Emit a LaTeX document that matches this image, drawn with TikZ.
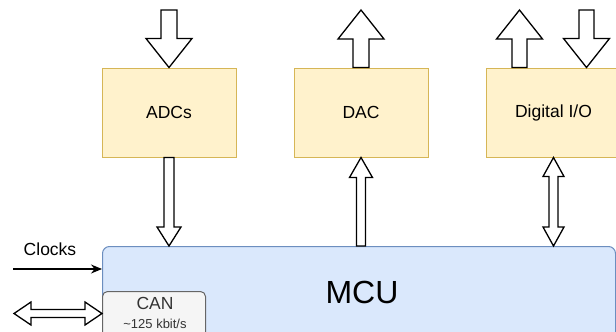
\documentclass[tikz,border=0pt]{standalone}
\usepackage{fontspec}
\setmainfont{Liberation Sans}
\usetikzlibrary{calc,arrows.meta}

\definecolor{ioFill}{HTML}{FFF2CC}
\definecolor{ioLine}{HTML}{D6B656}
\definecolor{mcuFill}{HTML}{DAE8FC}
\definecolor{mcuLine}{HTML}{6C8EBF}
\definecolor{busFill}{HTML}{F5F5F5}
\definecolor{busLine}{HTML}{666666}
\definecolor{busText}{HTML}{333333}

\tikzset{
  periph/.style={draw=ioLine, fill=ioFill, line width=1pt, minimum width=134pt,
    minimum height=89pt, inner sep=0pt, font=\fontsize{17.5}{21}\selectfont},
  mcubox/.style={draw=mcuLine, fill=mcuFill, line width=1pt, rounded corners=7pt,
    minimum width=513pt, minimum height=100pt, inner sep=0pt},
  busbox/.style={draw=busLine, fill=busFill, line width=1pt, rounded corners=5pt,
    minimum width=103pt, minimum height=60pt, inner sep=0pt},
  lbl/.style={inner sep=0pt, font=\fontsize{17.5}{21}\selectfont},
  blockarrow/.style={draw=black, fill=white, line width=1.3pt, line join=miter},
  wire/.style={draw=black, line width=1.3pt, -{Stealth[length=11pt,width=9pt]}}
}

% vertical block arrow: tail, tip, shaft half width, head half width, head length
\newcommand{\vblock}[5]{%
  \draw[blockarrow] let \p1=(#1), \p2=(#2), \n1={sign(\y2-\y1)}, \n2={\y2-\n1*#5} in
    ({\x1-#3},\y1) -- ({\x1-#3},{\n2*1pt}) -- ({\x1-#4},{\n2*1pt}) -- (\x1,\y2)
    -- ({\x1+#4},{\n2*1pt}) -- ({\x1+#3},{\n2*1pt}) -- ({\x1+#3},\y1) -- cycle;}

% vertical double-headed block arrow
\newcommand{\vdblock}[5]{%
  \draw[blockarrow] let \p1=(#1), \p2=(#2), \n1={sign(\y2-\y1)}, \n2={\y2-\n1*#5},
      \n3={\y1+\n1*#5} in
    (\x1,\y1) -- ({\x1-#4},{\n3*1pt}) -- ({\x1-#3},{\n3*1pt}) -- ({\x1-#3},{\n2*1pt})
    -- ({\x1-#4},{\n2*1pt}) -- (\x1,\y2) -- ({\x1+#4},{\n2*1pt}) -- ({\x1+#3},{\n2*1pt})
    -- ({\x1+#3},{\n3*1pt}) -- ({\x1+#4},{\n3*1pt}) -- cycle;}

% horizontal double-headed block arrow
\newcommand{\hdblock}[5]{%
  \draw[blockarrow] let \p1=(#1), \p2=(#2), \n1={sign(\x2-\x1)}, \n2={\x2-\n1*#5},
      \n3={\x1+\n1*#5} in
    (\x1,\y1) -- ({\n3*1pt},{\y1+#4}) -- ({\n3*1pt},{\y1+#3}) -- ({\n2*1pt},{\y1+#3})
    -- ({\n2*1pt},{\y1+#4}) -- (\x2,\y1) -- ({\n2*1pt},{\y1-#4}) -- ({\n2*1pt},{\y1-#3})
    -- ({\n3*1pt},{\y1-#3}) -- ({\n3*1pt},{\y1-#4}) -- cycle;}

\begin{document}
\begin{tikzpicture}[x=1pt, y=-1pt]
\useasboundingbox (0,0) rectangle (616,332);

% peripheral blocks
\node[periph] (adc) at (169,112.5) {ADCs};
\node[periph] (dac) at (361,112.5) {DAC};
\node[periph] (dio) at (553.5,112.5) {Digital I/O};

% microcontroller and its CAN interface
\node[mcubox, anchor=north west] (mcu) at (102,246) {};
\node[lbl, font=\fontsize{32}{36}\selectfont] (mcul) at (362,292) {MCU};
\node[busbox, anchor=north west] (can) at (102,291) {};
\node[lbl, text=busText] (canl) at (155,303) {CAN};
\node[lbl, text=busText, font=\fontsize{13}{15}\selectfont] (canr) at (155,324) {\textasciitilde125 kbit/s};

% external signal ends
\coordinate (adcIn) at (169,10);
\coordinate (dacOut) at (361,10);
\coordinate (dioOut) at (519.5,10);
\coordinate (dioIn) at (586.5,10);
\coordinate (clk) at (13,269);
\coordinate (canExt) at (14,313.5);

% outside world <-> peripherals
\vblock{adcIn}{adc.north}{8pt}{23pt}{29pt}
\vblock{dac.north}{dacOut}{8pt}{23pt}{29pt}
\vblock{dioOut |- dio.north}{dioOut}{7.5pt}{23pt}{29pt}
\vblock{dioIn}{dioIn |- dio.north}{7.5pt}{23pt}{29pt}

% peripherals <-> MCU
\vblock{adc.south}{adc.south |- mcu.north}{5pt}{12pt}{19pt}
\vblock{dac.south |- mcu.north}{dac.south}{4.5pt}{11.5pt}{20pt}
\vdblock{dio.south}{dio.south |- mcu.north}{4.5pt}{10.5pt}{19pt}

% clock input and CAN bus
\node[lbl] (clkl) at (50,249) {Clocks};
\draw[wire] (clk) -- (clk -| mcu.west);
\hdblock{canExt}{canExt -| can.west}{4pt}{11.5pt}{17pt}
\end{tikzpicture}
\end{document}
